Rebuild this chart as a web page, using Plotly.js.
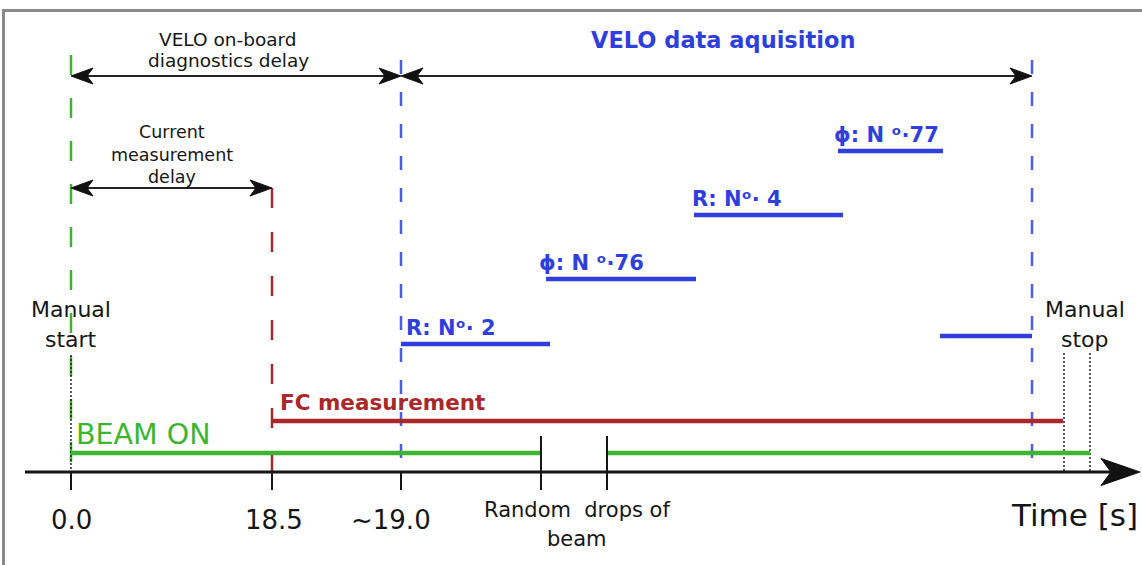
<!DOCTYPE html>
<html>
<head>
<meta charset="utf-8">
<script src="https://cdn.plot.ly/plotly-3.0.1.min.js"></script>
<style>
html,body{margin:0;padding:0;background:#fff;}
#chart{width:1142px;height:565px;}
</style>
</head>
<body>
<div id="chart"></div>
<script>
// ---------- data (diagram units: x along the time axis, y down the page) ----------
const timeTickPos = [71, 272, 401];
const timeTickLabels = ['0.0', '18.5', '~19.0'];
const beamDropPos = [541, 607];
const beamDropLines = ['Random\u00a0\u00a0drops of', 'beam'];
const beamOnStart = [71, 607];
const beamOnEnd = [541, 1090];
const beamOnRow = 453;
const fcStart = 272;
const fcEnd = 1063;
const fcRow = 421;
const veloLabels = ['R: N\u1d52\u00b7 2', '\u03d5: N \u1d52\u00b776', 'R: N\u1d52\u00b7 4', '\u03d5: N \u1d52\u00b777', ''];
const veloStart = [401, 546, 694, 838, 940];
const veloEnd = [550, 696, 843, 943, 1032];
const veloRow = [344, 279, 215, 151, 336];
const markerPos = [71, 272, 401, 1032];
const markerTop = [55, 188, 60, 60];
const manualPos = [71, 1064, 1090];
const manualTop = [355, 353, 353];
const manualStartLines = ['Manual', 'start'];
const manualStopLines = ['Manual', 'stop'];
const spanFrom = [71, 401, 71];
const spanTo = [401, 1032, 272];
const spanRow = [76, 76, 188];
const spanLines = [['VELO on-board', 'diagnostics delay'], ['VELO data aquisition'], ['Current', 'measurement', 'delay']];
const axisStart = 25;
const axisEnd = 1140;
const axisRow = 472;

// ---------- styles ----------
const FONT = 'DejaVu Sans, Verdana, sans-serif';
const GREEN = '#3cb52f';
const RED = '#a8282b';
const BLUE = '#2f3fdc';
const BLUE_DASH = '#4b5ce8';
const INK = '#161616';
const markerColor = [GREEN, RED, BLUE_DASH, BLUE_DASH];
const markerDash = ['20px,23px', '20px,24px', '14px,18px', '14px,18px'];

const traces = [];
function seg(xs, ys, color, width, dash) {
  traces.push({type: 'scatter', mode: 'lines', x: xs, y: ys,
    line: {color: color, width: width, dash: dash || 'solid'}, hoverinfo: 'skip'});
}
function head(tip, y, dir, L, H, notch) {
  return {x: [tip, tip - dir * L, tip - dir * (L - notch), tip - dir * L, tip],
          y: [y, y - H, y, y + H, y]};
}

// dashed vertical markers
markerPos.forEach((p, i) => seg([p, p], [markerTop[i], axisRow], markerColor[i], 2.5, markerDash[i]));
// dotted manual start / stop lines
manualPos.forEach((p, i) => seg([p, p], [manualTop[i], axisRow], INK, 1.4, '2px,2px'));

// VELO acquisition windows
veloStart.forEach((s, i) => seg([s, veloEnd[i]], [veloRow[i], veloRow[i]], BLUE, 4.5));
// FC measurement
seg([fcStart, fcEnd], [fcRow, fcRow], RED, 4.5);
// BEAM ON
const bx = [], by = [];
beamOnStart.forEach((s, i) => { bx.push(s, beamOnEnd[i], null); by.push(beamOnRow, beamOnRow, null); });
seg(bx, by, GREEN, 4.5);

// span arrows
spanFrom.forEach((f, i) => seg([f + 4, spanTo[i] - 4], [spanRow[i], spanRow[i]], '#222', 2));
const hx = [], hy = [];
spanFrom.forEach((f, i) => {
  const a = head(f, spanRow[i], -1, 22, 8, 6);
  const b = head(spanTo[i], spanRow[i], 1, 22, 8, 6);
  hx.push(...a.x, null, ...b.x, null); hy.push(...a.y, null, ...b.y, null);
});
const ah = head(axisEnd, axisRow, 1, 39, 13.5, 10);
hx.push(...ah.x); hy.push(...ah.y);

// time axis
seg([axisStart, axisEnd - 20], [axisRow, axisRow], INK, 3);
// ticks
const tx = [], ty = [];
timeTickPos.forEach(p => { tx.push(p, p, null); ty.push(axisRow, axisRow + 18, null); });
beamDropPos.forEach(p => { tx.push(p, p, null); ty.push(axisRow - 36, axisRow + 18, null); });
seg(tx, ty, INK, 2);

traces.push({type: 'scatter', mode: 'lines', x: hx, y: hy, fill: 'toself',
  fillcolor: '#111', line: {color: '#111', width: 1}, hoverinfo: 'skip'});

// ---------- annotations ----------
const ann = [];
function txt(x, y, text, size, color, opts) {
  ann.push(Object.assign({x: x, y: y, xref: 'x', yref: 'y', text: text, showarrow: false,
    xanchor: 'center', yanchor: 'middle', font: {family: FONT, size: size, color: color}}, opts || {}));
}
// multi-line label, one annotation per line; firstShift = pixels above anchor of line 1
function lines(x, y, arr, size, color, firstShift, spacing, opts) {
  arr.forEach((l, k) => txt(x, y, l, size, color, Object.assign({yshift: firstShift - k * spacing}, opts || {})));
}
const tickShift = [0, 2, -10];
timeTickPos.forEach((p, i) => txt(p, axisRow, timeTickLabels[i], 26, INK, {yshift: -47.5, xshift: tickShift[i]}));
lines((beamDropPos[0] + beamDropPos[1]) / 2, axisRow, beamDropLines, 21, INK, -37.5, 29, {xshift: 3});
txt(axisEnd, axisRow, 'Time [s]', 31, INK, {xanchor: 'right', yshift: -43});

txt(beamOnStart[0], beamOnRow, 'BEAM ON', 28.5, GREEN, {xanchor: 'left', yshift: 18.5, xshift: 3});
txt(fcStart, fcRow, '<b>FC measurement</b>', 21.5, RED, {xanchor: 'left', yshift: 19, xshift: 6});

const veloShift = [3, -9, -4, -6, 0];
veloLabels.forEach((l, i) => { if (l) txt(veloStart[i], veloRow[i], '<b>' + l + '</b>', 21, BLUE,
  {xanchor: 'left', yshift: 16.5, xshift: veloShift[i]}); });

const spanShiftX = [-8, 6, 0];
const spanFirstY = [37, 36, 56];
const spanSpacing = [21, 0, 22.5];
const spanSize = [18.5, 22.5, 17.5];
const spanColor = [INK, BLUE, INK];
spanLines.forEach((arr, i) => lines((spanFrom[i] + spanTo[i]) / 2, spanRow[i],
  i === 1 ? arr.map(s => '<b>' + s + '</b>') : arr,
  spanSize[i], spanColor[i], spanFirstY[i], spanSpacing[i], {xshift: spanShiftX[i]}));

lines(manualPos[0], manualTop[0], manualStartLines, 22, INK, 45.5, 30);
lines((manualPos[1] + manualPos[2]) / 2, manualTop[1], manualStopLines, 22, INK, 43.5, 30, {xshift: 8});

const layout = {
  width: 1142, height: 565,
  margin: {l: 0, r: 0, t: 0, b: 0},
  paper_bgcolor: '#ffffff', plot_bgcolor: '#ffffff',
  xaxis: {range: [0, 1142], visible: false, fixedrange: true},
  yaxis: {range: [565, 0], visible: false, fixedrange: true},
  showlegend: false, hovermode: false,
  shapes: [{type: 'rect', xref: 'x', yref: 'y', x0: 3.5, y0: 10.5, x1: 1170, y1: 600,
    line: {color: '#8a8a8a', width: 3}, layer: 'below'}],
  annotations: ann
};
Plotly.newPlot('chart', traces, layout, {displayModeBar: false, staticPlot: true});
</script>
</body>
</html>
